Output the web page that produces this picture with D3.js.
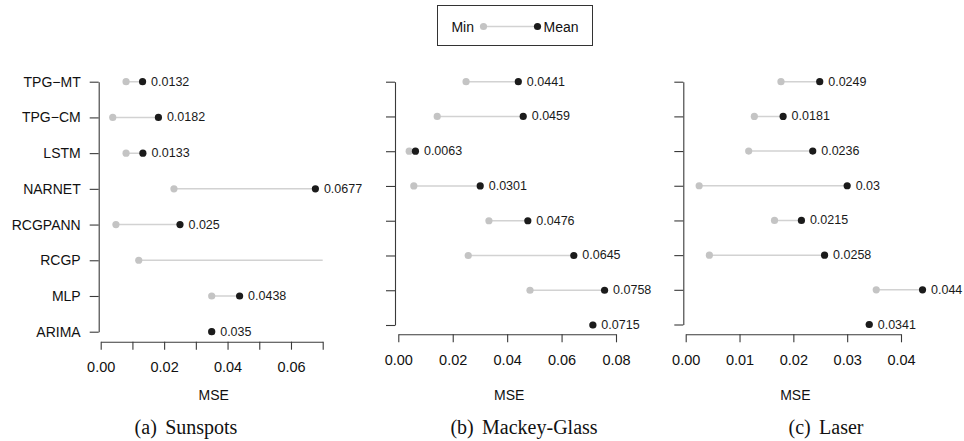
<!DOCTYPE html>
<html>
<head>
<meta charset="utf-8">
<script src="https://cdn.jsdelivr.net/npm/d3@7"></script>
<style>
  html, body { margin: 0; padding: 0; background: #fff; }
  svg { display: block; }
  text { font-family: "Liberation Sans", Arial, sans-serif; }
</style>
</head>
<body>
<svg id="chart" width="964" height="441"></svg>
<script>
// ---- data ----
const categories = ["TPG\u2212MT", "TPG\u2212CM", "LSTM", "NARNET", "RCGPANN", "RCGP", "MLP", "ARIMA"];

const sunspotsMin  = [0.008, 0.0038, 0.008, 0.0231, 0.0048, 0.012, 0.035, 0.035];
const sunspotsMean = [0.0132, 0.0182, 0.0133, 0.0677, 0.025, 0.0875, 0.0438, 0.035];

const mackeyMin  = [0.0249, 0.0143, 0.004, 0.0057, 0.0333, 0.0257, 0.0484, 0.0715];
const mackeyMean = [0.0441, 0.0459, 0.0063, 0.0301, 0.0476, 0.0645, 0.0758, 0.0715];

const laserMin  = [0.0177, 0.01275, 0.0117, 0.0025, 0.0165, 0.0044, 0.0354, 0.0341];
const laserMean = [0.0249, 0.0181, 0.0236, 0.03, 0.0215, 0.0258, 0.044, 0.0341];

const sunspotsTicks = [0, 0.01, 0.02, 0.03, 0.04, 0.05, 0.06, 0.07];
const sunspotsTickLabels = ["0.00", "", "0.02", "", "0.04", "", "0.06", ""];
const mackeyTicks = [0, 0.02, 0.04, 0.06, 0.08];
const mackeyTickLabels = ["0.00", "0.02", "0.04", "0.06", "0.08"];
const laserTicks = [0, 0.01, 0.02, 0.03, 0.04];
const laserTickLabels = ["0.00", "0.01", "0.02", "0.03", "0.04"];

const captions = ["(a)\u2006 Sunspots", "(b)\u2006 Mackey-Glass", "(c)\u2006 Laser"];
const axisTitle = "MSE";
const legendLabels = ["Min", "Mean"];

// ---- layout (positions/styles only) ----
const panels = [
  { mins: sunspotsMin, means: sunspotsMean, ticks: sunspotsTicks, tickLabels: sunspotsTickLabels,
    xDomain: [0, 0.07], clipMax: 0.07, xRange: [100.7, 322.7], yRange: [81.7, 331.7], yAxisX: 98.7, xAxisY: 341.7,
    showCats: true, caption: captions[0], capX: 186 },
  { mins: mackeyMin, means: mackeyMean, ticks: mackeyTicks, tickLabels: mackeyTickLabels,
    xDomain: [0, 0.08], clipMax: 0.084, xRange: [398.3, 616], yRange: [81.7, 325], yAxisX: 395, xAxisY: 334.3,
    showCats: false, caption: captions[1], capX: 524 },
  { mins: laserMin, means: laserMean, ticks: laserTicks, tickLabels: laserTickLabels,
    xDomain: [0, 0.04], clipMax: 0.046, xRange: [685.7, 901], yRange: [81.7, 324.5], yAxisX: 683.3, xAxisY: 334.3,
    showCats: false, caption: captions[2], capX: 826 }
];

const minColor = "#c4c4c4";
const meanColor = "#1b1b1b";
const segColor = "#d2d2d2";
const axisColor = "#3a3a3a";
const r = 3.6;

const svg = d3.select("#chart");
const defs = svg.append("defs");

panels.forEach((p, pi) => {
  const x = d3.scaleLinear().domain(p.xDomain).range(p.xRange);
  const y = d3.scalePoint().domain(categories).range(p.yRange);
  const g = svg.append("g");

  const clipId = "clip" + pi;
  defs.append("clipPath").attr("id", clipId)
    .append("rect")
    .attr("x", p.xRange[0] - 10).attr("y", 0)
    .attr("width", x(p.clipMax) - p.xRange[0] + 10).attr("height", 441);

  // y axis
  const yAxis = d3.axisLeft(y).tickSize(9).tickSizeOuter(0).tickPadding(9)
    .tickFormat(d => p.showCats ? d : "");
  const yg = g.append("g").attr("transform", `translate(${p.yAxisX},0)`).call(yAxis);
  yg.selectAll("path.domain").attr("stroke", axisColor).attr("stroke-width", 1.1);
  yg.selectAll(".tick line").attr("stroke", axisColor).attr("stroke-width", 1.1);
  yg.selectAll(".tick text").attr("fill", "#111").style("font-size", "14px")
    .style("font-family", "'Liberation Sans', Arial, sans-serif");

  // x axis
  const xAxis = d3.axisBottom(x).tickValues(p.ticks).tickSize(8).tickSizeOuter(0).tickPadding(12)
    .tickFormat((d, i) => p.tickLabels[i]);
  const xg = g.append("g").attr("transform", `translate(0,${p.xAxisY})`).call(xAxis);
  xg.selectAll("path.domain").attr("stroke", axisColor).attr("stroke-width", 1.1);
  xg.selectAll(".tick line").attr("stroke", axisColor).attr("stroke-width", 1.1);
  xg.selectAll(".tick text").attr("fill", "#111").style("font-size", "14.5px")
    .style("font-family", "'Liberation Sans', Arial, sans-serif");

  // axis title
  g.append("text")
    .attr("x", (p.xRange[0] + p.xRange[1]) / 2 + 2)
    .attr("y", 395)
    .attr("text-anchor", "middle").attr("dominant-baseline", "central")
    .style("font-size", "14px").attr("fill", "#111")
    .text(axisTitle);

  // caption
  g.append("text")
    .attr("x", p.capX).attr("y", 427)
    .attr("text-anchor", "middle").attr("dominant-baseline", "central")
    .style("font-family", "'Liberation Serif', 'Times New Roman', serif")
    .style("font-size", "20px").attr("fill", "#111")
    .text(p.caption);

  const rows = categories.map((c, i) => ({ cat: c, min: p.mins[i], mean: p.means[i] }));
  const marks = g.append("g").attr("clip-path", `url(#${clipId})`);

  marks.selectAll("line.seg").data(rows).join("line")
    .attr("class", "seg")
    .attr("x1", d => x(d.min)).attr("x2", d => x(d.mean))
    .attr("y1", d => y(d.cat)).attr("y2", d => y(d.cat))
    .attr("stroke", segColor).attr("stroke-width", 1.5);

  marks.selectAll("circle.min").data(rows).join("circle")
    .attr("class", "min")
    .attr("cx", d => x(d.min)).attr("cy", d => y(d.cat)).attr("r", r)
    .attr("fill", minColor);

  marks.selectAll("circle.mean").data(rows).join("circle")
    .attr("class", "mean")
    .attr("cx", d => x(d.mean)).attr("cy", d => y(d.cat)).attr("r", r)
    .attr("fill", meanColor);

  g.selectAll("text.val").data(rows.filter(d => d.mean <= p.clipMax)).join("text")
    .attr("class", "val")
    .attr("x", d => x(d.mean) + 8.5).attr("y", d => y(d.cat))
    .attr("dominant-baseline", "central")
    .style("font-size", "12.5px").attr("fill", "#1a1a1a")
    .text(d => String(d.mean));
});

// ---- legend ----
const leg = svg.append("g");
leg.append("rect").attr("x", 437.5).attr("y", 5.5).attr("width", 155).attr("height", 40)
  .attr("fill", "#fff").attr("stroke", "#333").attr("stroke-width", 1);
const legX = d3.scaleOrdinal().domain(legendLabels).range([483.5, 537.5]);
leg.append("line").attr("x1", legX("Min")).attr("x2", legX("Mean"))
  .attr("y1", 26.5).attr("y2", 26.5).attr("stroke", segColor).attr("stroke-width", 1.5);
leg.append("circle").attr("cx", legX("Min")).attr("cy", 26.5).attr("r", r).attr("fill", minColor);
leg.append("circle").attr("cx", legX("Mean")).attr("cy", 26.5).attr("r", r).attr("fill", meanColor);
leg.append("text").attr("x", legX("Min") - 9.5).attr("y", 26.5).attr("text-anchor", "end")
  .attr("dominant-baseline", "central").style("font-size", "14px").attr("fill", "#111").text(legendLabels[0]);
leg.append("text").attr("x", legX("Mean") + 6).attr("y", 26.5)
  .attr("dominant-baseline", "central").style("font-size", "14px").attr("fill", "#111").text(legendLabels[1]);
</script>
</body>
</html>
